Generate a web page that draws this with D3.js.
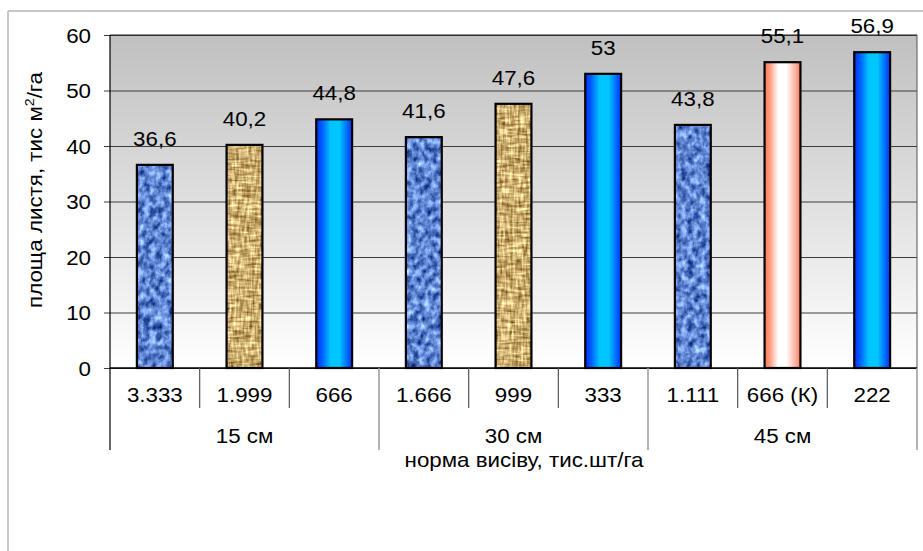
<!DOCTYPE html>
<html>
<head>
<meta charset="utf-8">
<script src="https://cdn.jsdelivr.net/npm/d3@7"></script>
<style>
  html, body { margin: 0; padding: 0; background: #fff; }
  svg { display: block; font-family: "Liberation Sans", Arial, sans-serif; }
</style>
</head>
<body>
<svg id="chart" width="923" height="551"></svg>
<script>
// Leaf area by row spacing and seeding rate
const categories = ["3.333", "1.999", "666", "1.666", "999", "333", "1.111", "666 (К)", "222"];
const groups = ["15 см", "30 см", "45 см"];
const groupSize = 3;
const values = [36.6, 40.2, 44.8, 41.6, 47.6, 53, 43.8, 55.1, 56.9];
const valueLabels = ["36,6", "40,2", "44,8", "41,6", "47,6", "53", "43,8", "55,1", "56,9"];
const fills = ["denim", "burlap", "blue", "denim", "burlap", "blue", "denim", "coral", "blue"];
const yTicks = [0, 10, 20, 30, 40, 50, 60];

const W = 923, H = 551;
const plot = { left: 110, top: 35, right: 917, bottom: 368 };
const FS = 20.5;      // base font size
const SX = 1.09;      // slight horizontal widening of the lettering

const svg = d3.select("#chart");
const defs = svg.append("defs");

// Plot area background: grey at top fading to white
const bg = defs.append("linearGradient").attr("id", "bgGrad")
  .attr("x1", 0).attr("y1", 0).attr("x2", 0).attr("y2", 1);
bg.append("stop").attr("offset", 0).attr("stop-color", "#c0c0c0");
bg.append("stop").attr("offset", 1).attr("stop-color", "#ffffff");

// Horizontal cylinder-like gradients
function hGrad(id, stops) {
  const g = defs.append("linearGradient").attr("id", id)
    .attr("x1", 0).attr("y1", 0).attr("x2", 1).attr("y2", 0);
  stops.forEach(([o, c]) => g.append("stop").attr("offset", o).attr("stop-color", c));
}
hGrad("blueGrad", [[0, "#0030f8"], [0.15, "#0058ff"], [0.4, "#00c4ff"], [0.65, "#00c8ff"], [0.85, "#0070ff"], [1, "#0030f8"]]);
hGrad("coralGrad", [[0, "#ff7a58"], [0.15, "#ff9a80"], [0.38, "#ffffff"], [0.6, "#ffffff"], [0.85, "#ffb4a4"], [1, "#ff7f62"]]);

// Denim-like mottled texture from fractal noise
const fd = defs.append("filter").attr("id", "denimTex")
  .attr("x", 0).attr("y", 0).attr("width", 1).attr("height", 1)
  .attr("color-interpolation-filters", "sRGB");
fd.append("feTurbulence").attr("type", "fractalNoise")
  .attr("baseFrequency", "0.16 0.13").attr("numOctaves", 3).attr("seed", 4).attr("result", "n");
fd.append("feColorMatrix").attr("in", "n").attr("type", "matrix")
  .attr("values", "1.05 0 0 0 -0.15  1.1 0 0 0 -0.03  1.0 0 0 0 0.32  0 0 0 0 1").attr("result", "c");
fd.append("feComposite").attr("in", "c").attr("in2", "SourceGraphic").attr("operator", "in");

// Burlap weave: horizontal and vertical strands averaged together
const fb = defs.append("filter").attr("id", "burlapTex")
  .attr("x", 0).attr("y", 0).attr("width", 1).attr("height", 1)
  .attr("color-interpolation-filters", "sRGB");
fb.append("feTurbulence").attr("type", "fractalNoise")
  .attr("baseFrequency", "0.07 0.38").attr("numOctaves", 2).attr("seed", 7).attr("result", "h");
fb.append("feTurbulence").attr("type", "fractalNoise")
  .attr("baseFrequency", "0.38 0.07").attr("numOctaves", 2).attr("seed", 11).attr("result", "v");
fb.append("feComposite").attr("in", "h").attr("in2", "v").attr("operator", "arithmetic")
  .attr("k1", 0).attr("k2", 0.5).attr("k3", 0.5).attr("k4", 0).attr("result", "m");
fb.append("feColorMatrix").attr("in", "m").attr("type", "matrix")
  .attr("values", "1.3 0 0 0 0.15  1.45 0 0 0 -0.04  1.4 0 0 0 -0.26  0 0 0 0 1").attr("result", "c");
fb.append("feComposite").attr("in", "c").attr("in2", "SourceGraphic").attr("operator", "in");

const x = d3.scaleBand().domain(categories).range([plot.left, plot.right])
  .paddingInner(0.6).paddingOuter(0.3);
const y = d3.scaleLinear().domain([0, 60]).range([plot.bottom, plot.top]);
const step = x.step();

// Text helper with slightly widened glyphs
function label(parent, tx, ty, txt, anchor = "middle", rot = 0) {
  return parent.append("text")
    .attr("transform", `translate(${tx},${ty}) rotate(${rot}) scale(${SX},1)`)
    .attr("text-anchor", anchor).attr("font-size", FS).attr("fill", "#000").text(txt);
}

// Outer frame (top and left edges)
svg.append("line").attr("x1", 8).attr("y1", 11).attr("x2", W).attr("y2", 11)
  .attr("stroke", "#b4b4b4").attr("stroke-width", 1.5);
svg.append("line").attr("x1", 8).attr("y1", 11).attr("x2", 8).attr("y2", H)
  .attr("stroke", "#b4b4b4").attr("stroke-width", 1.5);

// Plot background
svg.append("rect").attr("x", plot.left).attr("y", plot.top)
  .attr("width", plot.right - plot.left).attr("height", plot.bottom - plot.top)
  .attr("fill", "url(#bgGrad)");

// Gridlines with the y axis
const yAxis = d3.axisLeft(y).tickValues(yTicks)
  .tickSize(-(plot.right - plot.left)).tickSizeOuter(0).tickPadding(0);
const yg = svg.append("g").attr("transform", `translate(${plot.left},0)`).call(yAxis);
yg.select(".domain").remove();
yg.selectAll(".tick line").attr("stroke", "#3c3c3c").attr("stroke-width", 1).attr("x1", -6);
yg.selectAll(".tick text").attr("font-size", FS).attr("fill", "#000")
  .attr("font-family", "Liberation Sans, Arial, sans-serif")
  .attr("x", 0).attr("dy", "0.35em").attr("transform", `translate(-19,0) scale(${SX},1)`);

// Plot frame
svg.append("line").attr("x1", plot.left).attr("x2", plot.right).attr("y1", plot.top).attr("y2", plot.top)
  .attr("stroke", "#222").attr("stroke-width", 1.2);
svg.append("line").attr("x1", plot.right).attr("x2", plot.right).attr("y1", plot.top).attr("y2", plot.bottom)
  .attr("stroke", "#555").attr("stroke-width", 1);

// Bars
const bars = svg.append("g");
categories.forEach((c, i) => {
  const bx = x(c), bw = x.bandwidth(), by = y(values[i]), bh = y(0) - y(values[i]);
  const kind = fills[i];
  if (kind === "denim" || kind === "burlap") {
    bars.append("rect").attr("x", bx).attr("y", by).attr("width", bw).attr("height", bh)
      .attr("fill", kind === "denim" ? "#7090cc" : "#c4a870");
    bars.append("rect").attr("x", bx).attr("y", by).attr("width", bw).attr("height", bh)
      .attr("fill", "#000").attr("filter", `url(#${kind}Tex)`);
    bars.append("rect").attr("x", bx).attr("y", by).attr("width", bw).attr("height", bh)
      .attr("fill", "none").attr("stroke", "#000").attr("stroke-width", 2.2);
  } else {
    bars.append("rect").attr("x", bx).attr("y", by).attr("width", bw).attr("height", bh)
      .attr("fill", kind === "blue" ? "url(#blueGrad)" : "url(#coralGrad)")
      .attr("stroke", "#000").attr("stroke-width", 2.2);
  }
});

// Value labels
const vg = svg.append("g");
categories.forEach((c, i) => {
  label(vg, x(c) + x.bandwidth() / 2, y(values[i]) - 19, valueLabels[i]);
});

// X axis line and left axis line
svg.append("line").attr("x1", plot.left).attr("x2", plot.right).attr("y1", plot.bottom).attr("y2", plot.bottom)
  .attr("stroke", "#000").attr("stroke-width", 1.5);
svg.append("line").attr("x1", plot.left).attr("x2", plot.left).attr("y1", plot.top).attr("y2", 450)
  .attr("stroke", "#000").attr("stroke-width", 1.2);

// Category separators and labels
const axisG = svg.append("g");
categories.forEach((c, i) => {
  const xr = plot.left + step * (i + 1);
  const isGroupEdge = (i + 1) % groupSize === 0;
  axisG.append("line").attr("x1", xr).attr("x2", xr).attr("y1", plot.bottom)
    .attr("y2", isGroupEdge ? 450 : 408)
    .attr("stroke", isGroupEdge ? "#999" : "#555").attr("stroke-width", isGroupEdge ? 1.5 : 1.2);
  label(axisG, x(c) + x.bandwidth() / 2, 402, c);
});
groups.forEach((g, gi) => {
  label(axisG, plot.left + step * (gi * groupSize + groupSize / 2), 443, g);
});

// Axis titles
label(svg, 524, 467, "норма висіву, тис.шт/га");

const yt = label(svg, 42, 190, "", "middle", -90);
yt.append("tspan").text("площа листя, тис м");
yt.append("tspan").attr("font-size", 13).attr("dy", -8).text("2");
yt.append("tspan").attr("dy", 8).text("/га");
</script>
</body>
</html>
